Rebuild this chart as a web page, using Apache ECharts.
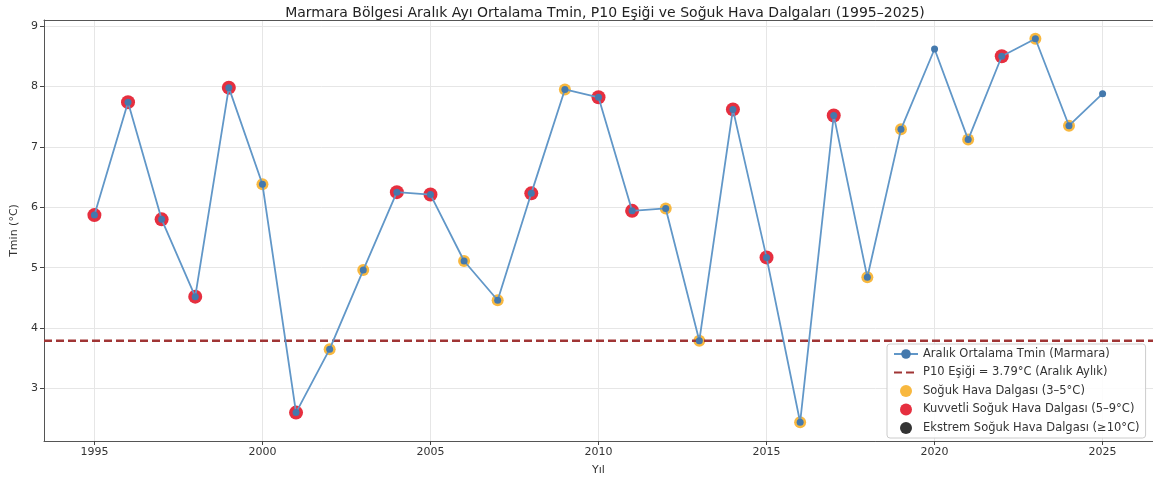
<!DOCTYPE html>
<html><head><meta charset="utf-8">
<script src="https://cdn.jsdelivr.net/npm/echarts@6/dist/echarts.min.js"></script>
<style>html,body{margin:0;padding:0;background:#fff;overflow:hidden}#c{width:1153px;height:481px}</style>
</head><body><div id="c"></div>
<script>
const years = [1995,1996,1997,1998,1999,2000,2001,2002,2003,2004,2005,2006,2007,2008,2009,2010,2011,2012,2013,2014,2015,2016,2017,2018,2019,2020,2021,2022,2023,2024,2025];
const tmin = [5.87,7.74,5.80,4.52,7.98,6.38,2.60,3.65,4.96,6.25,6.21,5.11,4.46,6.23,7.95,7.82,5.94,5.98,3.79,7.62,5.17,2.44,7.52,4.84,7.29,8.62,7.12,8.50,8.79,7.35,7.88];
const sogukYears = [2000,2002,2003,2006,2007,2009,2012,2013,2016,2018,2019,2021,2023,2024];
const kuvvetliYears = [1995,1996,1997,1998,1999,2001,2004,2005,2008,2010,2011,2014,2015,2017,2022];
const ekstremYears = [];
const p10 = 3.79;
const xTicks = [1995,2000,2005,2010,2015,2020,2025];
const yTicks = [3,4,5,6,7,8,9];
const xMin = 1993.5, xMax = 2026.5, yMin = 2.13, yMax = 9.1;

const pick = ys => ys.map(y => [y, tmin[years.indexOf(y)]]);
const F = 'DejaVu Sans';
const names = ['Aralık Ortalama Tmin (Marmara)','P10 Eşiği = 3.79°C (Aralık Aylık)','Soğuk Hava Dalgası (3–5°C)','Kuvvetli Soğuk Hava Dalgası (5–9°C)','Ekstrem Soğuk Hava Dalgası (≥10°C)'];
const frame = {show: true, lineStyle: {color: '#555', width: 1}};

const chart = echarts.init(document.getElementById('c'));
chart.setOption({
  animation: false,
  textStyle: {fontFamily: F},
  title: {
    text: 'Marmara Bölgesi Aralık Ayı Ortalama Tmin, P10 Eşiği ve Soğuk Hava Dalgaları (1995–2025)',
    left: 600, top: 1, textAlign: 'center',
    textStyle: {fontFamily: F, fontSize: 14, fontWeight: 'normal', color: '#222'}
  },
  grid: {left: 44, right: -4, top: 20, bottom: 40, show: false},
  legend: {
    orient: 'vertical', left: 887, top: 344,
    data: [
      names[0],
      {name: names[1], itemStyle: {color: 'rgba(0,0,0,0)', borderWidth: 0, opacity: 0}},
      names[2], names[3], names[4]
    ],
    itemWidth: 24, itemHeight: 12, itemGap: 6.5,
    padding: [4, 6, 4, 6],
    backgroundColor: 'rgba(255,255,255,0.85)', borderColor: '#ccc', borderWidth: 1, borderRadius: 3,
    textStyle: {fontFamily: F, fontSize: 11.5, color: '#333'}
  },
  xAxis: [{
    type: 'value', min: xMin, max: xMax, position: 'bottom',
    name: 'Yıl', nameLocation: 'middle', nameGap: 24,
    nameTextStyle: {fontFamily: F, fontSize: 11, color: '#333'},
    axisLine: frame,
    axisTick: {show: true, length: 4, customValues: xTicks, lineStyle: {color: '#444'}},
    axisLabel: {customValues: xTicks, fontSize: 11, color: '#333', margin: 6, formatter: v => String(v)},
    splitLine: {show: true, lineStyle: {color: '#e6e6e6', width: 1}}
  }, {
    type: 'value', min: xMin, max: xMax, position: 'top',
    axisLine: frame, axisTick: {show: false}, axisLabel: {show: false}, splitLine: {show: false}
  }],
  yAxis: {
    type: 'value', min: yMin, max: yMax,
    name: 'Tmin (°C)', nameLocation: 'middle', nameGap: 22,
    nameTextStyle: {fontFamily: F, fontSize: 11, color: '#333'},
    axisLine: frame,
    axisTick: {show: true, length: 4, customValues: yTicks, lineStyle: {color: '#444'}},
    axisLabel: {customValues: yTicks, fontSize: 11, color: '#333', margin: 6},
    splitLine: {show: true, lineStyle: {color: '#e6e6e6', width: 1}}
  },
  series: [
    {
      name: names[2], type: 'scatter', z: 1, symbolSize: 12,
      itemStyle: {color: '#f7b02a', opacity: 0.9},
      data: pick(sogukYears)
    },
    {
      name: names[3], type: 'scatter', z: 1, symbolSize: 14,
      itemStyle: {color: '#e3182a', opacity: 0.9},
      data: pick(kuvvetliYears)
    },
    {
      name: names[4], type: 'scatter', z: 1, symbolSize: 14,
      itemStyle: {color: '#000000'},
      data: pick(ekstremYears)
    },
    {
      name: names[1], type: 'line', z: 2, symbol: 'none',
      lineStyle: {color: '#a03535', width: 2.5, type: [8, 4]},
      itemStyle: {color: '#a03535'},
      data: [[xMin, p10], [xMax, p10]]
    },
    {
      name: names[0], type: 'line', z: 3, symbol: 'circle', symbolSize: 7,
      lineStyle: {color: '#6197c8', width: 1.8},
      itemStyle: {color: '#4479ad'},
      data: years.map((y, i) => [y, tmin[i]])
    }
  ]
});
</script></body></html>
